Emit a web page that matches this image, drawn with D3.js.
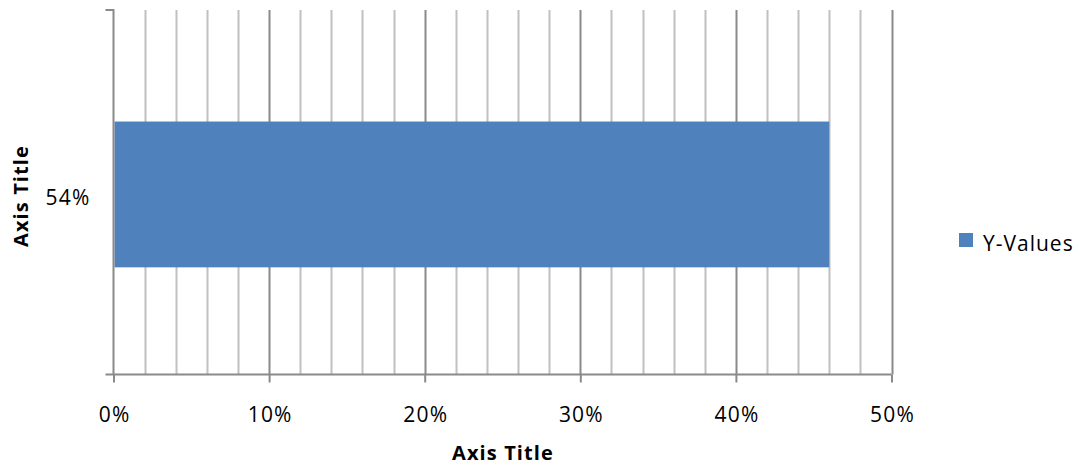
<!DOCTYPE html>
<html><head><meta charset="utf-8">
<script src="https://cdn.jsdelivr.net/npm/d3@7"></script>
<style>
html,body{margin:0;padding:0;background:#fff;}
svg{display:block;}
text{font-family:"Open Sans",sans-serif;fill:#000;}
</style></head>
<body>
<svg id="c" width="1080" height="468"></svg>
<script>
const categories = ["54%"];
const seriesName = "Y-Values";
const values = [46];
const xTickValues = [0, 10, 20, 30, 40, 50];
const xMinorValues = [0,2,4,6,8,10,12,14,16,18,20,22,24,26,28,30,32,34,36,38,40,42,44,46,48,50];
const xTitle = "Axis Title";
const yTitle = "Axis Title";

const svg = d3.select("#c");
const L = 113.5, R = 891.5, T = 10, B = 374.5;
const x = d3.scaleLinear().domain([0, 50]).range([L, R]);
const y = d3.scaleBand().domain(categories).range([T, B]).paddingInner(0.6).paddingOuter(0.3).align(0.51);

// minor gridlines
svg.append("g").selectAll("line").data(xMinorValues.filter(v => v % 10 !== 0)).join("line")
  .attr("x1", d => Math.round(x(d)) + 0.5).attr("x2", d => Math.round(x(d)) + 0.5)
  .attr("y1", T).attr("y2", B)
  .attr("stroke", "#c0c0c0").attr("stroke-width", 2);
// major gridlines
svg.append("g").selectAll("line").data(xTickValues.filter(v => v > 0)).join("line")
  .attr("x1", d => Math.round(x(d)) + 0.5).attr("x2", d => Math.round(x(d)) + 0.5)
  .attr("y1", T).attr("y2", B)
  .attr("stroke", "#8a8a8a").attr("stroke-width", 2);

// bars
svg.append("g").selectAll("rect").data(values).join("rect")
  .attr("x", x(0) + 1).attr("y", (d, i) => y(categories[i]))
  .attr("width", d => x(d) - x(0) - 1).attr("height", y.bandwidth())
  .attr("fill", "#4f81bd");

// x axis
const xAxis = d3.axisBottom(x).tickValues(xTickValues).tickSize(8).tickPadding(25)
  .tickFormat(d => d + "%");
const gx = svg.append("g").attr("transform", `translate(0,${B})`).call(xAxis);
gx.select(".domain").attr("stroke", "#8a8a8a").attr("stroke-width", 2)
  .attr("d", `M${L - 8},0H${R}`);
gx.selectAll(".tick line").attr("stroke", "#8a8a8a").attr("stroke-width", 2);
gx.selectAll(".tick text").style("font-size", "21px").style("letter-spacing", "1.2px")
  .attr("dx", "0.6px").attr("fill", "#000").attr("font-family", "Open Sans");

// y axis
const yAxis = d3.axisLeft(y).tickSize(0).tickPadding(23);
const gy = svg.append("g").attr("transform", `translate(${L},0)`).call(yAxis);
gy.select(".domain").attr("stroke", "#8a8a8a").attr("stroke-width", 2)
  .attr("d", `M-8,${T}H0V${B}`);
gy.selectAll(".tick text").style("font-size", "21px").style("letter-spacing", "1.2px")
  .attr("dy", "0.5em").attr("fill", "#000").attr("font-family", "Open Sans");

// axis titles
svg.append("text").attr("x", 503).attr("y", 460).attr("text-anchor", "middle")
  .style("font-size", "20px").style("font-weight", "bold").style("letter-spacing", "1.1px").text(xTitle);
svg.append("text").attr("transform", "translate(28,196) rotate(-90)").attr("text-anchor", "middle")
  .style("font-size", "20px").style("font-weight", "bold").style("letter-spacing", "1.1px").text(yTitle);

// legend
const lg = svg.append("g").attr("transform", "translate(959,233)");
lg.append("rect").attr("width", 14).attr("height", 14).attr("fill", "#4f81bd");
lg.append("text").attr("x", 24).attr("y", 17.5).style("font-size", "21px").style("letter-spacing", "1px").text(seriesName);
</script>
</body></html>
